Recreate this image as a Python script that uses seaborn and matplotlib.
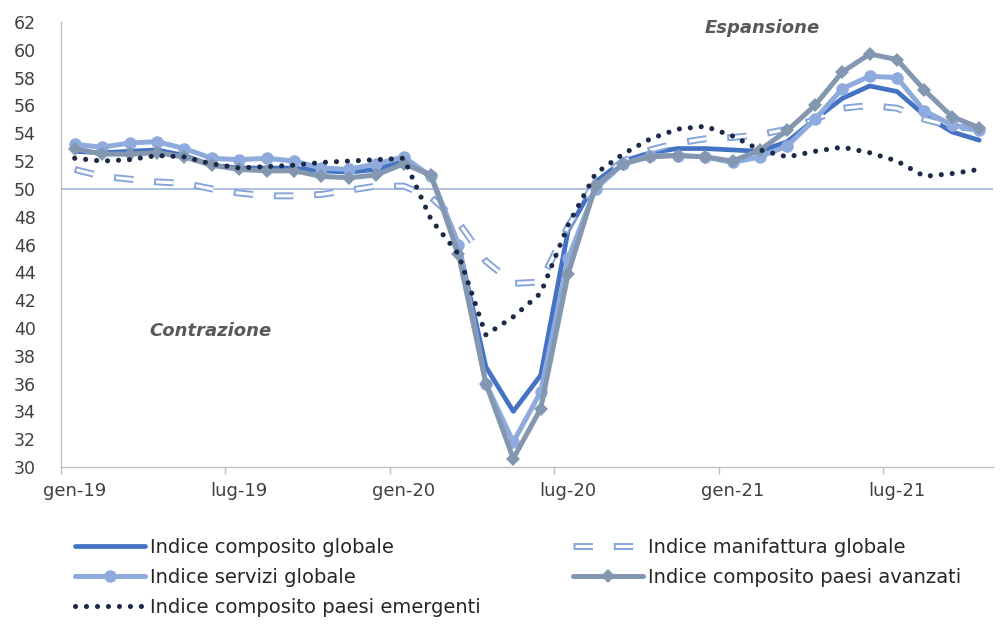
import numpy as np
import pandas as pd
import matplotlib
matplotlib.use("Agg")
import matplotlib.pyplot as plt
import seaborn as sns
from matplotlib.legend_handler import HandlerTuple

# ---------------- data ----------------
months = ["gen-19", "feb-19", "mar-19", "apr-19", "mag-19", "giu-19", "lug-19", "ago-19",
          "set-19", "ott-19", "nov-19", "dic-19", "gen-20", "feb-20", "mar-20", "apr-20",
          "mag-20", "giu-20", "lug-20", "ago-20", "set-20", "ott-20", "nov-20", "dic-20",
          "gen-21", "feb-21", "mar-21", "apr-21", "mag-21", "giu-21", "lug-21", "ago-21",
          "set-21", "ott-21"]

composito_globale = [52.7, 52.6, 52.7, 52.8, 52.4, 51.7, 51.5, 51.5, 51.5, 51.3, 51.2, 51.4,
                     52.0, 50.9, 46.0, 37.2, 34.0, 36.6, 47.0, 50.5, 52.0, 52.6, 52.9, 52.9,
                     52.8, 52.7, 53.4, 55.0, 56.5, 57.4, 57.0, 55.3, 54.1, 53.5]
manifattura_globale = [51.4, 50.9, 50.7, 50.5, 50.4, 50.0, 49.7, 49.5, 49.5, 49.6, 49.9, 50.2,
                       50.2, 49.4, 47.6, 44.8, 43.2, 43.3, 47.3, 50.5, 52.0, 52.8, 53.3, 53.6,
                       53.7, 53.9, 54.3, 55.0, 55.8, 56.0, 55.8, 55.0, 54.5, 54.3]
servizi_globale = [53.2, 53.0, 53.3, 53.4, 52.9, 52.2, 52.1, 52.2, 52.0, 51.5, 51.4, 51.8,
                   52.3, 50.9, 46.0, 36.0, 31.8, 35.4, 45.0, 50.0, 51.8, 52.4, 52.4, 52.3,
                   51.9, 52.3, 53.1, 55.0, 57.2, 58.1, 58.0, 55.6, 54.6, 54.2]
composito_avanzati = [52.9, 52.5, 52.5, 52.6, 52.3, 51.7, 51.4, 51.3, 51.3, 50.9, 50.8, 51.0,
                      51.8, 51.0, 45.3, 36.0, 30.6, 34.2, 43.9, 50.2, 51.8, 52.3, 52.4, 52.3,
                      52.0, 52.8, 54.2, 56.0, 58.4, 59.7, 59.3, 57.1, 55.2, 54.4]
composito_emergenti = [52.2, 52.0, 52.1, 52.4, 52.3, 51.8, 51.5, 51.6, 51.7, 51.9, 52.0, 52.1,
                       52.2, 47.8, 45.3, 39.5, 40.8, 42.5, 47.4, 51.1, 52.5, 53.6, 54.3, 54.5,
                       53.8, 52.8, 52.3, 52.7, 53.0, 52.6, 52.0, 50.9, 51.1, 51.4]

labels = ["Indice composito globale", "Indice manifattura globale", "Indice servizi globale",
          "Indice composito paesi avanzati", "Indice composito paesi emergenti"]
tick_labels = ["gen-19", "lug-19", "gen-20", "lug-20", "gen-21", "lug-21"]
y_ticks = list(range(30, 63, 2))

# ---------------- style ----------------
sns.set_theme(style="white")
plt.rcParams["font.family"] = ["DejaVu Sans"]
plt.rcParams["lines.scale_dashes"] = False

df = pd.DataFrame({
    "idx": np.arange(len(months)),
    "mese": months,
    "comp": composito_globale,
    "manu": manifattura_globale,
    "serv": servizi_globale,
    "avan": composito_avanzati,
    "emer": composito_emergenti,
})

W, H = 1001, 625
fig = plt.figure(figsize=(W / 100, H / 100), dpi=100)
x0, x1, yt, yb = 61, 993, 22, 467
ax = fig.add_axes([x0 / W, 1 - yb / H, (x1 - x0) / W, (yb - yt) / H])

ax.axhline(50, color="#A9BCDC", lw=1.3, zorder=1)

c_comp = "#4472C4"
c_manu = "#86A5DA"
c_serv = "#8FAADC"
c_avan = "#8497B0"
c_emer = "#1C2A48"

sns.lineplot(data=df, x="idx", y="comp", ax=ax, color=c_comp, lw=3.4, zorder=3)
l_comp = ax.lines[-1]

sns.lineplot(data=df, x="idx", y="manu", ax=ax, color=c_manu, lw=5.0, zorder=3)
l_manu = ax.lines[-1]
l_manu.set_linestyle((0, (14, 15)))
sns.lineplot(data=df, x="idx", y="manu", ax=ax, color="white", lw=2.2, zorder=3)
l_manu_in = ax.lines[-1]
l_manu_in.set_linestyle((27.6, (12.6, 16.4)))

sns.lineplot(data=df, x="idx", y="serv", ax=ax, color=c_serv, lw=3.6, marker="o",
             markersize=9, markeredgewidth=0, zorder=4)
l_serv = ax.lines[-1]

sns.lineplot(data=df, x="idx", y="avan", ax=ax, color=c_avan, lw=3.6, marker="D",
             markersize=7.5, markeredgewidth=0, zorder=4)
l_avan = ax.lines[-1]

sns.lineplot(data=df, x="idx", y="emer", ax=ax, color=c_emer, lw=3.7, zorder=5)
l_emer = ax.lines[-1]
l_emer.set_linestyle((0, (0.01, 7.9)))
l_emer.set_dash_capstyle("round")

# ---------------- axes ----------------
n = len(months)
ax.set_xlim(-0.5, n - 0.5)
ax.set_ylim(30, 62)
ax.set_yticks(y_ticks)
ax.set_xticks([months.index(t) for t in tick_labels])
ax.set_xticklabels(tick_labels)
ax.set_xticks([months.index(t) - 0.5 for t in tick_labels], minor=True)
ax.set_xlabel("")
ax.set_ylabel("")

for s in ["top", "right"]:
    ax.spines[s].set_visible(False)
for s in ["left", "bottom"]:
    ax.spines[s].set_color("#BFBFBF")
    ax.spines[s].set_linewidth(1.0)

ax.tick_params(axis="y", which="major", length=0, pad=18, labelsize=12.5, labelcolor="#404040")
ax.tick_params(axis="x", which="major", length=0, pad=11, labelsize=13, labelcolor="#404040")
ax.tick_params(axis="x", which="minor", length=5, width=1, color="#BFBFBF", direction="out",
               bottom=True)

ax.text(25.1, 61.6, "Espansione", ha="center", va="center", fontsize=13, style="italic",
        weight="bold", color="#595959")
ax.text(4.95, 39.8, "Contrazione", ha="center", va="center", fontsize=13, style="italic",
        weight="bold", color="#595959")

# ---------------- legend ----------------
leg_kw = dict(frameon=False, loc="upper left", borderpad=0, borderaxespad=0,
              handlelength=3.6, handletextpad=0.26, labelspacing=0.57, fontsize=14,
              labelcolor="#262626", handler_map={tuple: HandlerTuple(ndivide=1)})
fig.legend([l_comp, l_serv, l_emer], [labels[0], labels[2], labels[4]],
           bbox_to_anchor=(75 / W, 1 - 538 / H), **leg_kw)
fig.legend([(l_manu, l_manu_in), l_avan], [labels[1], labels[3]],
           bbox_to_anchor=(573 / W, 1 - 538 / H), **leg_kw)

fig.savefig("out.png", dpi=100, facecolor="white")
